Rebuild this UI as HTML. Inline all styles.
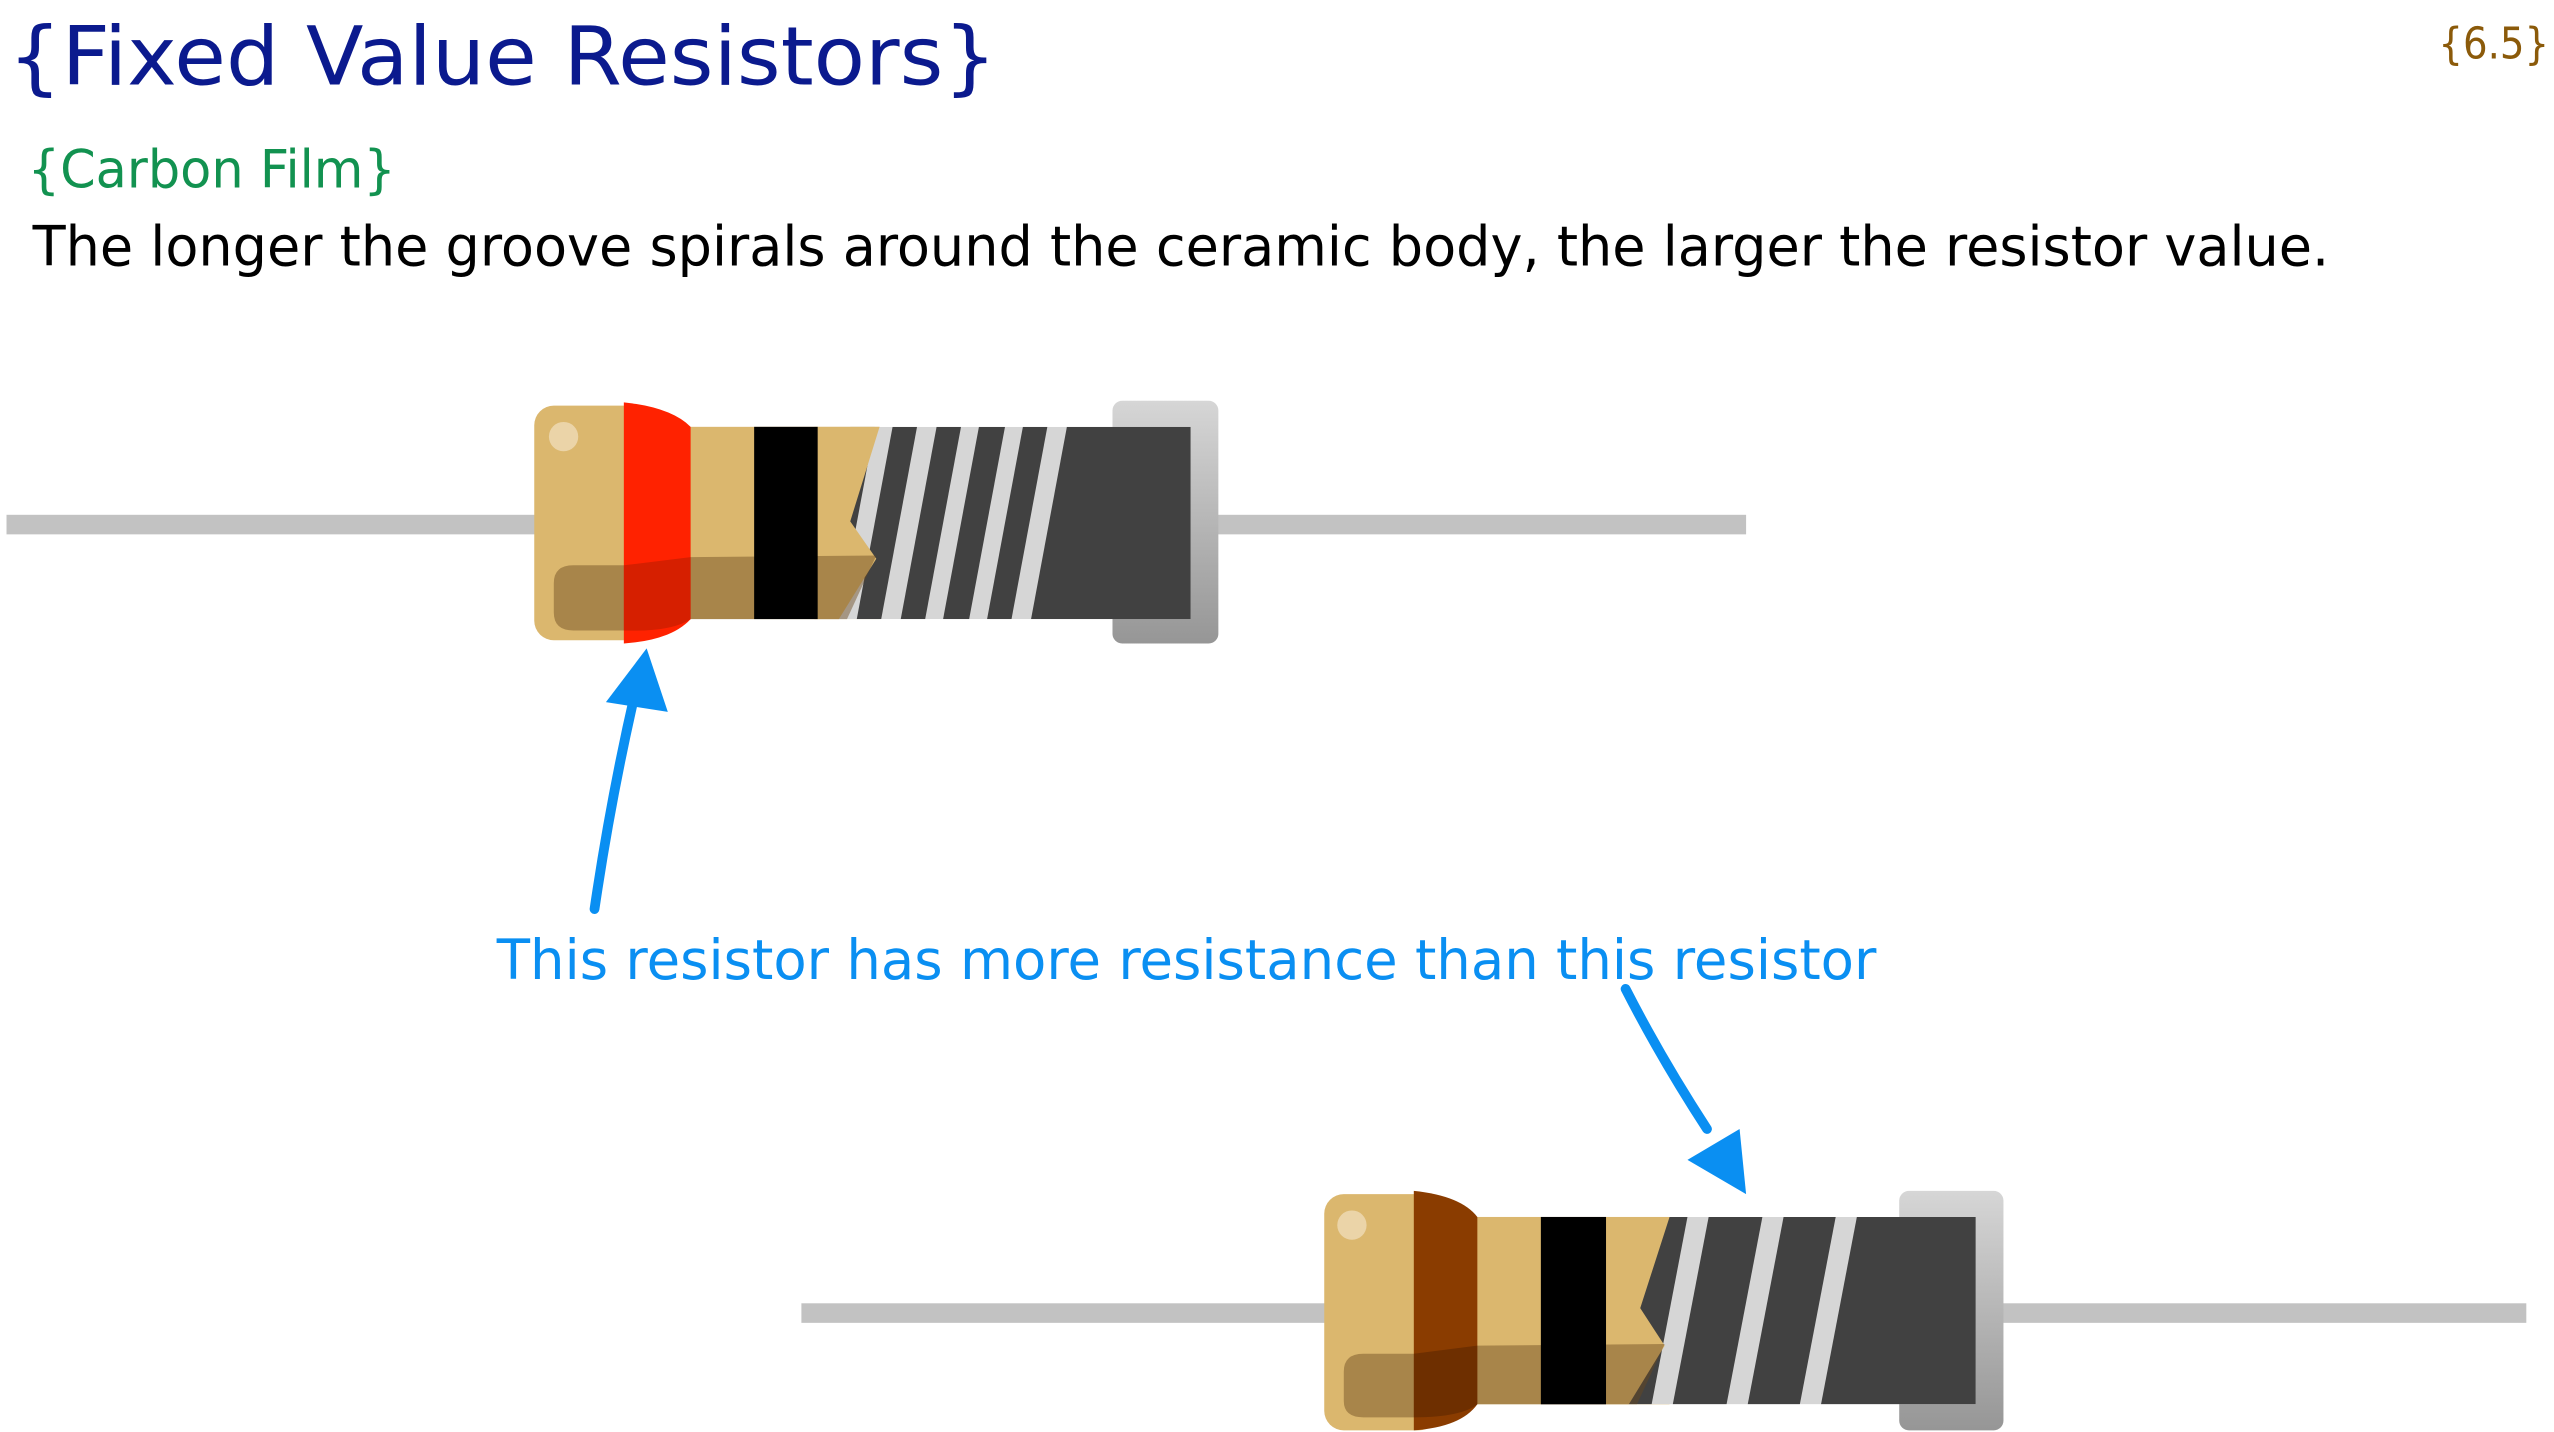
<!DOCTYPE html>
<html><head><meta charset="utf-8"><style>
html,body{margin:0;padding:0;background:#fff;}
svg{display:block;}
text{font-family:"DejaVu Sans","Liberation Sans",sans-serif;}
</style></head><body>
<svg width="2554" height="1432" viewBox="0 0 1568 879" preserveAspectRatio="none" xmlns="http://www.w3.org/2000/svg">
<defs>
<linearGradient id="cap" x1="0" y1="0" x2="0" y2="1"><stop offset="0" stop-color="#d6d6d6"/><stop offset="1" stop-color="#969696"/></linearGradient>
<clipPath id="c1"><rect x="515" y="262" width="216" height="118"/></clipPath>
<clipPath id="c2"><rect x="1000" y="747" width="213" height="115"/></clipPath>
</defs>
<text x="5" y="52" font-size="50" fill="#0b1a8e" textLength="607" lengthAdjust="spacingAndGlyphs">{Fixed Value Resistors}</text>
<text x="1497" y="36" font-size="27" fill="#8b5a0a" textLength="68" lengthAdjust="spacingAndGlyphs">{6.5}</text>
<text x="17" y="115" font-size="32" fill="#129250" textLength="226" lengthAdjust="spacingAndGlyphs">{Carbon Film}</text>
<text x="20" y="163" font-size="34" fill="#000" textLength="1410" lengthAdjust="spacingAndGlyphs">The longer the groove spirals around the ceramic body, the larger the resistor value.</text>
<text x="305" y="601" font-size="34" fill="#0a8ff2" textLength="847" lengthAdjust="spacingAndGlyphs">This resistor has more resistance than this resistor</text>

<!-- top resistor -->
<rect x="4" y="316" width="1068" height="12" fill="#c2c2c2"/>
<rect x="683" y="246" width="65" height="149" rx="6" fill="url(#cap)"/>
<rect x="328" y="249" width="70" height="144" rx="12" fill="#dbb76e"/>
<rect x="420" y="262" width="120" height="118" fill="#dbb76e"/>
<g clip-path="url(#c1)">
<rect x="515" y="262" width="216" height="118" fill="#d6d6d6"/>
<polygon points="522,262 537,262 515,380 500,380" fill="#414141"/>
<polygon points="548,262 563,262 541,380 526,380" fill="#414141"/>
<polygon points="575,262 590,262 568,380 553,380" fill="#414141"/>
<polygon points="601,262 617,262 595,380 579,380" fill="#414141"/>
<polygon points="628,262 643,262 621,380 606,380" fill="#414141"/>
<polygon points="655,262 731,262 731,380 633,380" fill="#414141"/>
</g>
<polygon points="500,262 540,262 522,320 538,343 515,380 500,380" fill="#dbb76e"/>
<path d="M340,358 Q340,347 352,347 L383,347 L424,342 L538,341 L520,380 L424,380 L383,387 L352,387 Q340,387 340,376 Z" fill="#6b4a20" opacity="0.45"/>
<path d="M383,247 Q412,250 424,262 L424,380 Q412,393 383,395 Z" fill="#ff2200"/>
<path d="M383,347 L424,342 L424,380 Q412,388 383,387 Z" fill="#8a1a00" opacity="0.35"/>
<rect x="463" y="262" width="39" height="118" fill="#000"/>
<ellipse cx="346" cy="268" rx="9" ry="9" fill="#ebd4a8"/>

<!-- bottom resistor -->
<rect x="492" y="800" width="1059" height="12" fill="#c2c2c2"/>
<rect x="1166" y="731" width="64" height="147" rx="6" fill="url(#cap)"/>
<rect x="813" y="733" width="70" height="145" rx="12" fill="#dbb76e"/>
<rect x="900" y="747" width="125" height="115" fill="#dbb76e"/>
<g clip-path="url(#c2)">
<rect x="1000" y="747" width="213" height="115" fill="#d6d6d6"/>
<polygon points="1010,747 1036,747 1014,862 988,862" fill="#414141"/>
<polygon points="1049,747 1082,747 1060,862 1027,862" fill="#414141"/>
<polygon points="1095,747 1127,747 1105,862 1073,862" fill="#414141"/>
<polygon points="1140,747 1213,747 1213,862 1118,862" fill="#414141"/>
</g>
<polygon points="986,747 1025,747 1007,803 1022,826 1000,862 986,862" fill="#dbb76e"/>
<path d="M825,842 Q825,831 837,831 L868,831 L907,826 L1022,825 L1005,862 L907,862 L868,870 L837,870 Q825,870 825,860 Z" fill="#6b4a20" opacity="0.45"/>
<path d="M868,731 Q897,734 907,747 L907,862 Q897,876 868,878 Z" fill="#8a3c00"/>
<path d="M868,831 L907,826 L907,862 Q897,870 868,870 Z" fill="#3a1800" opacity="0.35"/>
<rect x="946" y="747" width="40" height="115" fill="#000"/>
<ellipse cx="830" cy="752" rx="9" ry="9" fill="#ebd4a8"/>

<!-- arrows -->
<path d="M365,558 Q375,490 390,425" stroke="#0a8ff2" stroke-width="6" fill="none" stroke-linecap="round"/>
<polygon points="397,398 410,437 372,431" fill="#0a8ff2"/>
<path d="M998,607 Q1020,650 1048,693" stroke="#0a8ff2" stroke-width="6" fill="none" stroke-linecap="round"/>
<polygon points="1072,733 1036,712 1068,693" fill="#0a8ff2"/>
</svg>
</body></html>
